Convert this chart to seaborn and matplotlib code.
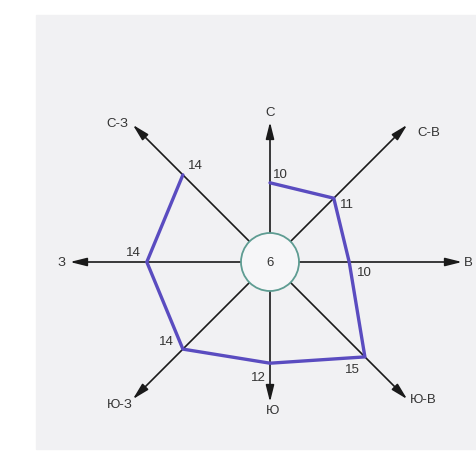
import numpy as np
import pandas as pd
import seaborn as sns
import matplotlib.pyplot as plt
from matplotlib.patches import Circle, Rectangle

# wind rose data (repeatability of wind directions, %)
directions = ['С', 'С-В', 'В', 'Ю-В', 'Ю', 'Ю-З', 'З', 'С-З']
values = [10, 11, 10, 15, 12, 14, 14, 14]
calm = 6

sns.set_style('white')
plt.rcParams['font.family'] = ['Liberation Sans', 'DejaVu Sans']

angles = np.deg2rad(np.arange(0, 360, 45))   # clockwise from north
# radial scale: pixels per %, radial axis starts at r0 %
scale = 11.0
r0 = 2.8
circle_r = 29
arrow_len = [140, 194, 192, 194, 140, 194, 200, 194]
# label offsets in pixels (value numbers / direction names)
num_off = [(10, 9), (13, -6), (15, -10), (-13, -12), (-12, -14), (-16, 8), (-13, 10), (13, 10)]
name_off = [(0, 10, 'center'), (10, -7, 'left'), (2, 0, 'left'), (3, 0, 'left'),
            (3, -8, 'center'), (0, -5, 'right'), (-4, 0, 'right'), (-4, 2, 'right')]

fig = plt.figure(figsize=(4.76, 4.64), dpi=100)
ax = fig.add_axes([0, 0, 1, 1])
ax.set_facecolor('none')
ax.add_patch(Rectangle((36 / 476, 14 / 464), 440 / 476, 434 / 464,
                       transform=fig.transFigure, color='#f1f1f3', zorder=0))
ax.set_xlim(-270, 206)
ax.set_ylim(-201, 263)
ax.axis('off')

# axes with arrows
for a, L, name, (dx, dy, ha) in zip(angles, arrow_len, directions, name_off):
    sx, sy = np.sin(a), np.cos(a)
    ax.annotate('', xy=(L * sx, L * sy), xytext=(circle_r * sx, circle_r * sy),
                arrowprops=dict(arrowstyle='-|>,head_length=1.0,head_width=0.25',
                                color='#1a1a1a', lw=1.2, mutation_scale=10,
                                shrinkA=0, shrinkB=0), zorder=2)
    ax.annotate(name, xy=(L * sx, L * sy), xytext=(dx, dy), textcoords='offset pixels',
                ha=ha, va='center', fontsize=9.5, color='#333333', annotation_clip=False,
                zorder=5)

# polygon of wind repeatability
df = pd.DataFrame({'dir': directions, 'value': values})
df['x'] = (df['value'] - r0) * scale * np.sin(angles)
df['y'] = (df['value'] - r0) * scale * np.cos(angles)
closed = pd.concat([df, df.iloc[:1]], ignore_index=True)
sns.lineplot(data=closed, x='x', y='y', sort=False, color='#5a4cc0', lw=2.4, ax=ax,
             zorder=3)
ax.set_xlabel('')
ax.set_ylabel('')
ax.set_xlim(-270, 206)
ax.set_ylim(-201, 263)

for (x, y, v), (dx, dy) in zip(df[['x', 'y', 'value']].values, num_off):
    ax.annotate(str(int(v)), xy=(x, y), xytext=(dx, dy), textcoords='offset pixels',
                ha='center', va='center', fontsize=9.5, color='#333333', zorder=5)

# calm circle
ax.add_patch(Circle((0, 0), circle_r, facecolor='#f6f6f8', edgecolor='#5e9c92',
                    lw=1.3, zorder=4))
ax.text(0, 0, str(calm), ha='center', va='center', fontsize=9.5, color='#333333', zorder=5)

fig.savefig('out.png', dpi=100)
